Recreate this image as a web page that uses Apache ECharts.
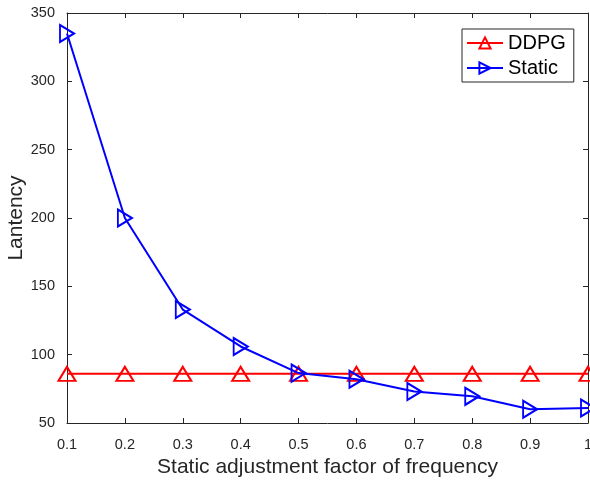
<!DOCTYPE html>
<html>
<head>
<meta charset="utf-8">
<script src="https://cdn.jsdelivr.net/npm/echarts@6/dist/echarts.min.js"></script>
<style>
  html, body { margin: 0; padding: 0; background: #fff; }
  #chart { width: 590px; height: 480px; }
</style>
</head>
<body>
<div id="chart"></div>
<script>
// Adjustment factors along the x axis
const factors = [0.1, 0.2, 0.3, 0.4, 0.5, 0.6, 0.7, 0.8, 0.9, 1.0];
// Latency for the DDPG policy (flat) and the static scheme
const ddpgLatency = [86, 86, 86, 86, 86, 86, 86, 86, 86, 86];
const staticLatency = [335, 200, 133, 106, 86.5, 82, 73, 69.5, 60, 61];
// Tick labels
const xTicks = ['0.1', '0.2', '0.3', '0.4', '0.5', '0.6', '0.7', '0.8', '0.9', '1'];
const yTicks = [50, 100, 150, 200, 250, 300, 350];

const axisColor = '#262626';
const font = 'Liberation Sans, Arial, Helvetica, sans-serif';

const chart = echarts.init(document.getElementById('chart'), null, { renderer: 'canvas' });

function pairs(vals) {
  return factors.map((f, i) => [f, vals[i]]);
}

const baseX = {
  type: 'value', min: 0.1, max: 1, interval: 0.1,
  axisLine: { show: true, onZero: false, lineStyle: { color: axisColor, width: 1 } },
  axisTick: { show: true, inside: true, length: 5, lineStyle: { color: axisColor } },
  splitLine: { show: false }
};
const baseY = {
  type: 'value', min: 50, max: 350, interval: 50,
  axisLine: { show: true, onZero: false, lineStyle: { color: axisColor, width: 1 } },
  axisTick: { show: true, inside: true, length: 5, lineStyle: { color: axisColor } },
  splitLine: { show: false }
};

chart.setOption({
  backgroundColor: '#fff',
  animation: false,
  grid: { left: 67, right: 2, top: 13, bottom: 57, containLabel: false, outerBoundsMode: 'none' },
  legend: {
    left: 462, top: 29,
    orient: 'vertical',
    data: ['DDPG', 'Static'],
    itemWidth: 36, itemHeight: 14, itemGap: 5,
    padding: [4, 8, 4, 4],
    borderColor: axisColor, borderWidth: 1,
    backgroundColor: '#fff',
    textStyle: { fontFamily: font, fontSize: 20, color: '#000' }
  },
  xAxis: [
    Object.assign({}, baseX, {
      position: 'bottom',
      name: 'Static adjustment factor of frequency',
      nameLocation: 'middle', nameGap: 34, nameMoveOverlap: false,
      nameTextStyle: { fontFamily: font, fontSize: 21, color: axisColor },
      axisLabel: {
        fontFamily: font, fontSize: 14.5, color: axisColor, margin: 14,
        formatter: v => xTicks[Math.round(v * 10) - 1] || ''
      }
    }),
    Object.assign({}, baseX, { position: 'top', axisLabel: { show: false } })
  ],
  yAxis: [
    Object.assign({}, baseY, {
      position: 'left',
      name: 'Lantency',
      nameLocation: 'middle', nameGap: 40, nameMoveOverlap: false,
      nameTextStyle: { fontFamily: font, fontSize: 21, color: axisColor },
      axisLabel: {
        fontFamily: font, fontSize: 14.5, color: axisColor, margin: 12,
        formatter: v => yTicks.indexOf(v) >= 0 ? String(v) : ''
      }
    }),
    Object.assign({}, baseY, { position: 'right', axisLabel: { show: false } })
  ],
  series: [
    {
      name: 'DDPG', type: 'line', xAxisIndex: 0, yAxisIndex: 0,
      data: pairs(ddpgLatency),
      symbol: 'triangle', symbolSize: [17, 14], showAllSymbol: true,
      lineStyle: { color: '#ff0000', width: 2 },
      itemStyle: { color: 'rgba(255,255,255,0)', borderColor: '#ff0000', borderWidth: 2 },
      z: 2
    },
    {
      name: 'Static', type: 'line', xAxisIndex: 0, yAxisIndex: 0,
      data: pairs(staticLatency),
      symbol: 'triangle', symbolSize: [17, 14], symbolRotate: -90, showAllSymbol: true,
      lineStyle: { color: '#0000ff', width: 2 },
      itemStyle: { color: 'rgba(255,255,255,0)', borderColor: '#0000ff', borderWidth: 2 },
      z: 3
    }
  ]
});
</script>
</body>
</html>
